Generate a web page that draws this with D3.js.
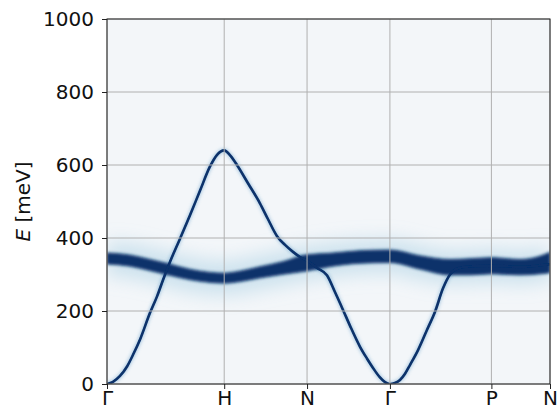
<!DOCTYPE html>
<html>
<head>
<meta charset="utf-8">
<script src="https://cdn.jsdelivr.net/npm/d3@7"></script>
<style>
body { margin: 0; background: #fff; }
text { font-family: "DejaVu Sans", sans-serif; }
</style>
</head>
<body>
<div class="container"></div>
<script>
// high-symmetry path (BCC), in units of 2pi/a along the path
const kTicks = [0, 1, 1.707, 2.414, 3.280, 3.780];
const kLabels = ["Γ", "H", "N", "Γ", "P", "N"];
const eTicks = [0, 200, 400, 600, 800, 1000];

// broad, nearly flat band (centre and width in meV)
const flatQ = [0, 0.196, 0.367, 0.512, 0.708, 0.879, 1.0, 1.135, 1.305, 1.502, 1.707, 1.903, 2.159, 2.414, 2.671, 2.927, 3.097, 3.280, 3.524, 3.695, 3.780];
const flatE = [344, 338, 326, 315, 300, 292, 290, 295, 306, 318, 332, 340, 348, 350, 333, 320, 321, 324, 320, 326, 333];
const flatW = [30, 30, 30, 30, 28, 27, 27, 28, 30, 34, 44, 36, 34, 34, 36, 42, 44, 44, 42, 48, 56];

// sharp magnon branch
const magQ = [0, 0.051, 0.111, 0.171, 0.222, 0.282, 0.367, 0.427, 0.478, 0.538, 0.623, 0.708, 0.794, 0.879, 0.939, 1.0,
  1.049, 1.109, 1.203, 1.305, 1.373, 1.451, 1.519, 1.587, 1.647, 1.707,
  1.792, 1.877, 1.945, 2.014, 2.073, 2.159, 2.218, 2.270, 2.329, 2.372, 2.414,
  2.457, 2.500, 2.543, 2.585, 2.654, 2.730, 2.799, 2.867, 2.927, 2.986, 3.097, 3.280, 3.524, 3.780];
const magE = [0, 6, 22, 48, 80, 122, 195, 240, 285, 335, 398, 462, 530, 596, 628, 640,
  627, 600, 550, 495, 452, 405, 381, 362, 348, 338,
  318, 298, 252, 203, 160, 102, 70, 44, 18, 5, 0,
  3, 11, 28, 52, 93, 148, 198, 262, 300, 316, 322, 324, 321, 328];

const width = 557;
const height = 411;

const svg = d3.select("div.container")
    .append("svg")
    .attr("width", width)
    .attr("height", height);

const x = d3.scaleLinear().domain([0, 3.78]).range([107, 550]);
const y = d3.scaleLinear().domain([0, 1000]).range([384, 19]);

const defs = svg.append("defs");
defs.append("clipPath").attr("id", "plot")
    .append("rect")
    .attr("x", x(0)).attr("y", y(1000))
    .attr("width", x(3.78) - x(0)).attr("height", y(0) - y(1000));

function blur(id, sd) {
    defs.append("filter").attr("id", id)
        .attr("filterUnits", "userSpaceOnUse")
        .attr("x", 0).attr("y", 0).attr("width", width).attr("height", height)
        .append("feGaussianBlur").attr("stdDeviation", sd);
}
blur("b-halo", 9);
blur("b-core", 1.5);
blur("b-thin", 0.6);
blur("b-glow", 1.8);

const g = svg.append("g").attr("clip-path", "url(#plot)");

g.append("rect")
    .attr("x", x(0)).attr("y", y(1000))
    .attr("width", x(3.78) - x(0)).attr("height", y(0) - y(1000))
    .attr("fill", "#f3f6f9");

const flat = flatQ.map((q, i) => ({q: q, e: flatE[i], w: flatW[i]}));
const mag = magQ.map((q, i) => ({q: q, e: magE[i]}));

const flatLine = d3.line()
    .x(d => x(d.q)).y(d => y(d.e))
    .curve(d3.curveMonotoneX);

const flatArea = d3.area()
    .x(d => x(d.q))
    .y0(d => y(d.e - d.w / 2))
    .y1(d => y(d.e + d.w / 2))
    .curve(d3.curveMonotoneX);

const magLine = d3.line()
    .x(d => x(d.q)).y(d => y(d.e))
    .curve(d3.curveMonotoneX);

// soft glows first, dark cores on top
g.append("path").datum(flat)
    .attr("d", flatLine)
    .attr("fill", "none")
    .attr("stroke", "#9ecae1")
    .attr("stroke-opacity", 0.45)
    .attr("stroke-width", 34)
    .attr("filter", "url(#b-halo)");

g.append("path").datum(mag)
    .attr("d", magLine)
    .attr("fill", "none")
    .attr("stroke", "#4f8fc4")
    .attr("stroke-opacity", 0.35)
    .attr("stroke-width", 5)
    .attr("filter", "url(#b-glow)");

g.append("path").datum(flat)
    .attr("d", flatArea)
    .attr("fill", "#08306b")
    .attr("stroke", "#08306b")
    .attr("stroke-width", 1)
    .attr("filter", "url(#b-core)");

g.append("path").datum(mag)
    .attr("d", magLine)
    .attr("fill", "none")
    .attr("stroke", "#08306b")
    .attr("stroke-width", 2.6)
    .attr("filter", "url(#b-thin)");

// grid on top of the map
const grid = svg.append("g").attr("stroke", "#b0b0b0").attr("stroke-width", 1);
grid.selectAll("line.v")
    .data(kTicks)
    .enter()
    .append("line")
    .attr("x1", d => x(d)).attr("x2", d => x(d))
    .attr("y1", y(0)).attr("y2", y(1000));
grid.selectAll("line.h")
    .data(eTicks)
    .enter()
    .append("line")
    .attr("x1", x(0)).attr("x2", x(3.78))
    .attr("y1", d => y(d)).attr("y2", d => y(d));

svg.append("g")
    .attr("transform", `translate(${x(0)},0)`)
    .call(d3.axisLeft(y).tickValues(eTicks).tickFormat(d3.format("d")).tickSize(5).tickPadding(8));

svg.append("g")
    .attr("transform", `translate(0,${y(0)})`)
    .call(d3.axisBottom(x).tickValues(kTicks).tickFormat((d, i) => kLabels[i]).tickSize(5).tickPadding(2));

svg.selectAll(".tick text").attr("font-size", 20).attr("fill", "#111").attr("font-family", "DejaVu Sans");
svg.selectAll(".tick line").attr("stroke", "#222");
svg.selectAll(".domain").remove();

svg.append("rect")
    .attr("x", x(0)).attr("y", y(1000))
    .attr("width", x(3.78) - x(0)).attr("height", y(0) - y(1000))
    .attr("fill", "none")
    .attr("stroke", "#222")
    .attr("stroke-width", 1);

const label = svg.append("text")
    .attr("transform", `translate(30,${(y(0) + y(1000)) / 2}) rotate(-90)`)
    .attr("text-anchor", "middle")
    .attr("font-size", 20)
    .attr("fill", "#111");
label.append("tspan").attr("font-style", "italic").text("E");
label.append("tspan").text(" [meV]");
</script>
</body>
</html>
